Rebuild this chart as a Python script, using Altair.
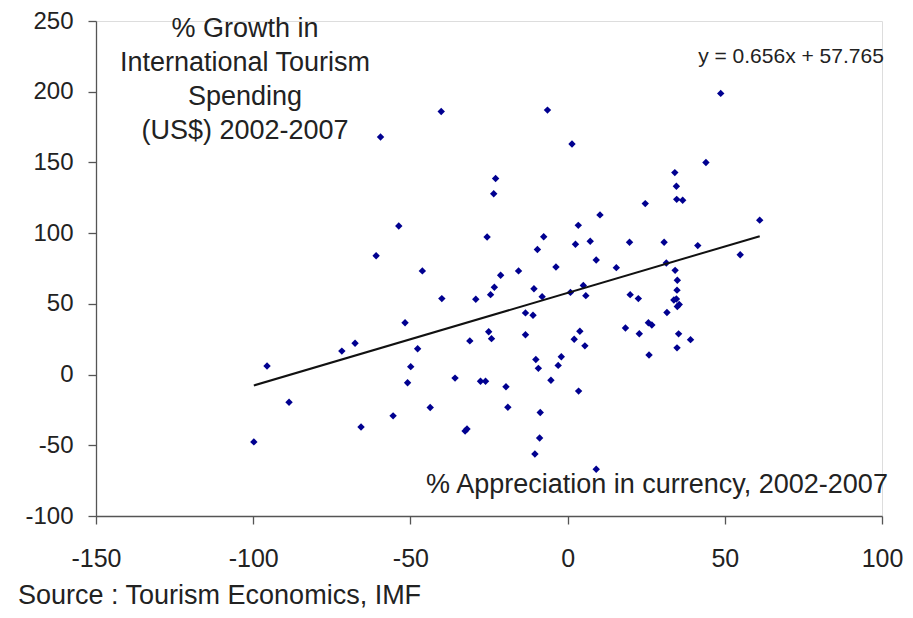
import altair as alt
import pandas as pd

# % appreciation in currency 2002-2007 (x) and % growth in tourism spending (y)
appreciation = [
    -40.2, -6.4, 48.7, -59.5, 1.4, -22.9, -23.5, 44.0, 34.1, 34.6,
    34.7, 36.6, 24.7, 10.3, 3.4, 7.2, 2.5, 19.7, 30.7, -25.6,
    -7.6, -9.6, 9.1, 61.1, 41.4, 54.9, -53.7, -60.9, -46.2, -40.0,
    -51.7, -67.6, -71.8, -47.7, -49.9, -50.9, -95.6, -35.8, -88.6, -43.7,
    -55.5, -65.7, -99.8, -3.7, 15.5, -21.3, -15.6, -23.3, -24.5, -29.2,
    -10.7, -8.1, 5.0, 5.8, 0.9, 19.9, 22.5, 31.4, 34.2, 34.9,
    34.8, 33.8, 34.6, 34.9, 35.5, 31.6, -13.4, -11.0, -25.1, -24.2,
    -31.1, -13.4, 3.9, 2.1, 5.5, 18.4, 22.8, 25.7, 26.8, 25.9,
    35.3, 34.8, 39.1, -10.1, -9.3, -2.0, -3.0, -27.7, -26.1, -5.3,
    -19.6, 3.5, -19.0, -8.7, -32.6, -32.0, -8.9, -10.4, 9.1,
]
growth = [
    186.0, 187.0, 198.8, 168.0, 163.0, 138.6, 127.8, 150.0, 142.8, 133.2,
    123.9, 123.2, 120.9, 112.9, 105.5, 94.3, 92.2, 93.6, 93.6, 97.3,
    97.5, 88.4, 81.0, 109.2, 91.2, 84.7, 105.0, 84.0, 73.3, 53.7,
    36.6, 22.2, 16.6, 18.2, 5.6, -5.8, 6.1, -2.5, -19.6, -23.3,
    -29.2, -37.1, -47.6, 76.1, 75.6, 70.2, 73.3, 61.8, 56.5, 53.2,
    60.7, 55.1, 63.0, 55.8, 58.1, 56.5, 53.7, 78.9, 73.7, 66.7,
    59.7, 52.7, 53.4, 48.1, 49.5, 43.9, 43.6, 42.0, 30.3, 25.4,
    23.8, 28.2, 30.6, 25.0, 20.3, 32.9, 28.9, 36.6, 35.0, 13.8,
    28.8, 18.9, 24.7, 10.7, 4.4, 12.6, 6.5, -4.7, -4.7, -4.0,
    -8.6, -11.7, -23.1, -26.8, -39.9, -38.5, -44.8, -56.2, -67.0,
]

slope = 0.656
intercept = 57.765

x_ticks = [-150, -100, -50, 0, 50, 100]
y_ticks = [-100, -50, 0, 50, 100, 150, 200, 250]

title_text = "% Growth in\nInternational Tourism\nSpending\n(US$) 2002-2007"
equation_text = "y = 0.656x + 57.765"
xlabel_text = "% Appreciation in currency, 2002-2007"
source_text = "Source : Tourism Economics, IMF"

df = pd.DataFrame({"x": appreciation, "y": growth})
xmin, xmax = min(appreciation), max(appreciation)
trend = pd.DataFrame({"x": [xmin, xmax],
                      "y": [slope * xmin + intercept, slope * xmax + intercept]})

FONT = "Liberation Sans"
W, H = 786, 495

xscale = alt.Scale(domain=[-150, 100], nice=False, zero=False)
yscale = alt.Scale(domain=[-100, 250], nice=False, zero=False)

hyphen_labels = "datum.value < 0 ? '-' + abs(datum.value) : '' + datum.value"

axis_style = dict(grid=False, title=None, labelFont=FONT,
                  labelColor="#222", tickSize=8, domainColor="#555",
                  tickColor="#555", domainWidth=1.3, tickWidth=1.3,
                  labelFlush=False, labelExpr=hyphen_labels)
xaxis = alt.Axis(values=x_ticks, labelPadding=22, labelFontSize=25, **axis_style)
yaxis = alt.Axis(values=y_ticks, labelPadding=15, labelFontSize=24, **axis_style)

points = alt.Chart(df).mark_point(shape="diamond", filled=True, size=55,
                                  color="#000090", opacity=1).encode(
    x=alt.X("x:Q", scale=xscale, axis=xaxis),
    y=alt.Y("y:Q", scale=yscale, axis=yaxis),
)

line = alt.Chart(trend).mark_line(color="#111", strokeWidth=2).encode(
    x=alt.X("x:Q", scale=xscale),
    y=alt.Y("y:Q", scale=yscale),
)

def label(text, x, y, size, align="center"):
    return alt.Chart(pd.DataFrame({"t": [text]})).mark_text(
        font=FONT, fontSize=size, color="#222", align=align,
        baseline="alphabetic", lineBreak="\n", lineHeight=34,
    ).encode(text="t:N", x=alt.value(x), y=alt.value(y))

title = label(title_text, 149, 16, 27)
equation = label(equation_text, 695, 42, 21)
xlabel = label(xlabel_text, 561, 472, 27)
source = label(source_text, -78, 583, 27, align="left")

chart = alt.layer(points, line, title, equation, xlabel, source).properties(
    width=W, height=H,
    autosize=alt.AutoSizeParams(type="none"),
    padding={"left": 88, "top": 13, "right": 22, "bottom": 94},
).configure_view(stroke=None).configure(background="white")

chart.save("out.html", embed_options={"renderer": "svg", "actions": False})
